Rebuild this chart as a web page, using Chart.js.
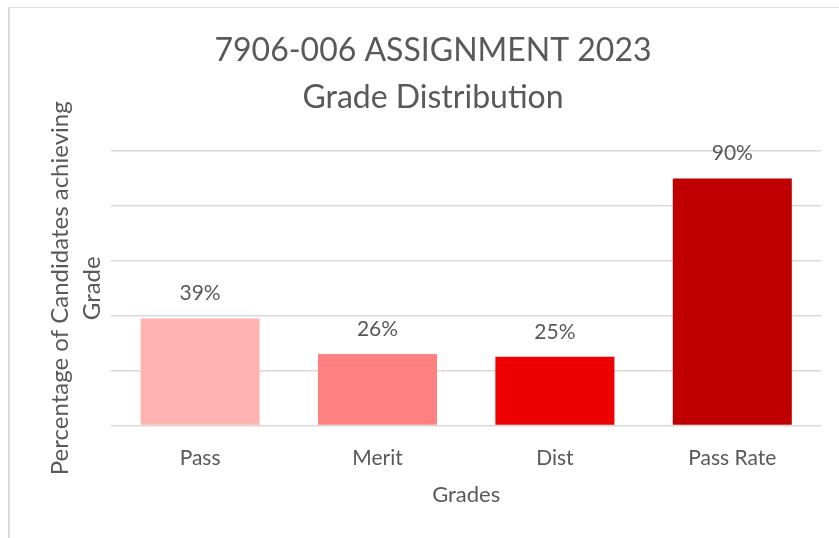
<!DOCTYPE html>
<html>
<head>
<meta charset="utf-8">
<script src="https://cdn.jsdelivr.net/npm/chart.js@4"></script>
<style>
    html, body { margin: 0; padding: 0; background: #fff; }
    #wrap { position: relative; width: 839px; height: 538px; overflow: hidden; }
    #frame {
        position: absolute; left: 8px; top: 7px; width: 900px; height: 600px;
        border-left: 2px solid #dcdcdc; border-top: 1px solid #dcdcdc;
    }
    canvas { position: absolute; left: 0; top: 0; }
</style>
</head>
<body>
<div id="wrap">
    <div id="frame"></div>
    <canvas id="chart" width="839" height="538"></canvas>
</div>
<script>
const grades = ['Pass', 'Merit', 'Dist', 'Pass Rate'];
const percents = [39, 26, 25, 90];
const barColors = ['#ffb3b3', '#ff8080', '#ee0000', '#c00000'];
const titleLines = ['7906-006 ASSIGNMENT 2023', 'Grade Distribution'];
const yTitleLines = ['Percentage of Candidates achieving', 'Grade'];

const textColor = '#595959';
const fontFamily = 'Lato, "Open Sans", sans-serif';

// simple value labels above the bars
const valueLabels = {
    id: 'valueLabels',
    afterDatasetsDraw(chart) {
        const ctx = chart.ctx;
        const meta = chart.getDatasetMeta(0);
        ctx.save();
        ctx.font = '21px ' + fontFamily;
        ctx.fillStyle = textColor;
        ctx.textAlign = 'center';
        ctx.textBaseline = 'middle';
        meta.data.forEach((bar, i) => {
            ctx.fillText(percents[i] + '%', bar.x, bar.y - 25);
        });
        ctx.restore();
    }
};

const ctx = document.getElementById('chart').getContext('2d');
new Chart(ctx, {
    type: 'bar',
    data: {
        labels: grades,
        datasets: [{
            data: percents,
            backgroundColor: barColors,
            borderWidth: 0,
            barPercentage: 1,
            categoryPercentage: 0.671
        }]
    },
    options: {
        responsive: false,
        animation: false,
        layout: { padding: { left: 45, right: 18, top: 27, bottom: 26 } },
        plugins: {
            legend: { display: false },
            tooltip: { enabled: false },
            title: {
                display: true,
                text: titleLines,
                color: textColor,
                font: { family: fontFamily, size: 32, weight: 'normal', lineHeight: 1.47 },
                padding: { top: 0, bottom: 30 }
            }
        },
        scales: {
            x: {
                grid: { display: false, drawTicks: false },
                border: { display: false },
                ticks: {
                    color: textColor,
                    padding: 20,
                    font: { family: fontFamily, size: 21 }
                },
                title: {
                    display: true,
                    text: 'Grades',
                    color: textColor,
                    font: { family: fontFamily, size: 22, lineHeight: 1.2 },
                    padding: { top: -9, bottom: 4 }
                }
            },
            y: {
                min: 0,
                max: 100,
                ticks: { display: false, stepSize: 20 },
                grid: { color: '#d9d9d9', lineWidth: 1.5, drawTicks: false },
                border: { display: false },
                title: {
                    display: true,
                    text: yTitleLines,
                    color: textColor,
                    font: { family: fontFamily, size: 24, lineHeight: 1.3 },
                    padding: { top: 0, bottom: 4 }
                }
            }
        }
    },
    plugins: [valueLabels]
});
</script>
</body>
</html>
